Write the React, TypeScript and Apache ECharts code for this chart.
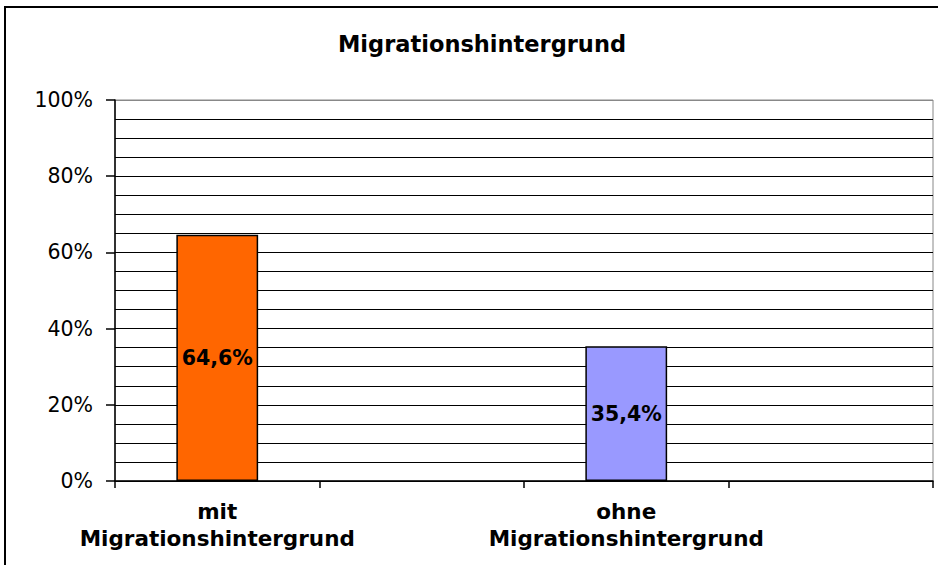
import React, { useEffect, useRef } from "react";
import * as echarts from "echarts";

const categories = ["mit\nMigrationshintergrund", "", "ohne\nMigrationshintergrund", ""];
const values: (number | string)[] = [0.646, "-", 0.354, "-"];
const valueLabels = ["64,6%", "", "35,4%", ""];
const barColors = ["#FF6600", "#FF6600", "#9999FF", "#9999FF"];
const titleText = "Migrationshintergrund";

export default function App() {
  const ref = useRef<HTMLDivElement>(null);
  useEffect(() => {
    if (!ref.current) return;
    const chart = echarts.init(ref.current, undefined, { renderer: "svg" });
    const font = "'DejaVu Sans', sans-serif";
    chart.setOption({
      animation: false,
      backgroundColor: "#ffffff",
      textStyle: { fontFamily: font },
      title: {
        text: titleText,
        left: 477,
        textAlign: "center",
        top: 27,
        textStyle: { fontSize: 22.5, fontWeight: "bold", color: "#000", fontFamily: font },
      },
      graphic: [
        {
          type: "rect",
          shape: { x: 5, y: 7, width: 960, height: 600 },
          style: { fill: "none", stroke: "#000", lineWidth: 2 },
          silent: true,
        },
      ],
      grid: {
        left: 115,
        top: 100,
        right: 5,
        bottom: 84,
        show: true,
        borderColor: "#888",
        borderWidth: 1,
        backgroundColor: "transparent",
      },
      xAxis: {
        type: "category",
        data: categories,
        boundaryGap: true,
        axisLine: { show: true, lineStyle: { color: "#000", width: 1.5 } },
        axisTick: { show: true, alignWithLabel: false, interval: 0, length: 7, lineStyle: { color: "#000", width: 1.5 } },
        axisLabel: {
          interval: 0,
          margin: 17,
          fontSize: 21.5,
          fontWeight: "bold",
          color: "#000",
          lineHeight: 27,
          fontFamily: font,
        },
        splitLine: { show: false },
      },
      yAxis: {
        type: "value",
        min: 0,
        max: 1,
        interval: 0.2,
        axisLine: { show: true, lineStyle: { color: "#000", width: 1.5 } },
        axisTick: { show: true, length: 9, lineStyle: { color: "#000", width: 1.5 } },
        axisLabel: {
          margin: 22,
          fontSize: 20.5,
          color: "#000",
          fontFamily: font,
          formatter: (v: number) => Math.round(v * 100) + "%",
        },
        splitLine: {
          show: true,
          lineStyle: { color: ["#000", "#000", "#000", "#000", "#000", "#888"], width: 1.2 },
        },
        minorTick: { show: false, splitNumber: 4 },
        minorSplitLine: { show: true, lineStyle: { color: "#000", width: 1.2 } },
      },
      series: [
        {
          type: "bar",
          barWidth: "40%",
          data: values.map((v, i) => ({
            value: v,
            itemStyle: { color: barColors[i], borderColor: "#000", borderWidth: 1.5 },
          })),
          label: {
            show: true,
            position: "inside",
            fontSize: 20.5,
            fontWeight: "bold",
            color: "#000",
            fontFamily: font,
            formatter: (p: any) => valueLabels[p.dataIndex],
          },
        },
      ],
    });
    return () => chart.dispose();
  }, []);
  return (
    <div
      ref={ref}
      style={{ position: "fixed", left: 0, top: 0, width: 938, height: 565 }}
    />
  );
}
